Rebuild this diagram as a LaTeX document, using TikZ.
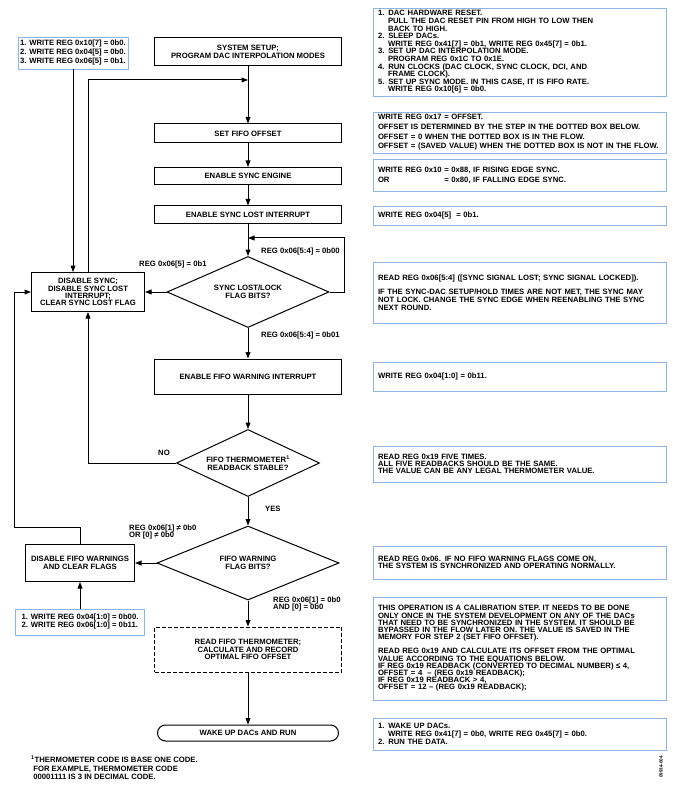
\documentclass[tikz,border=0pt]{standalone}
\usepackage{fontspec}
\setmainfont{Liberation Sans}
\usetikzlibrary{arrows.meta,shapes.geometric}
\definecolor{bluebox}{RGB}{141,180,226}
\newcommand{\ind}{\hspace*{10pt}}
\newcommand{\tls}{\lineskiplimit=-6pt\relax}
\newcommand{\fs}[1]{\fontsize{7.7}{#1}\selectfont\bfseries\tls}
\begin{document}
\begin{tikzpicture}[x=1pt,y=-1pt,
  txt/.style={font=\fs{8}},
  mbox/.style={draw, line width=1pt, minimum width=187pt, inner sep=1pt, align=center, txt},
  rbox/.style={draw=bluebox, line width=0.8pt, text width=283pt, inner sep=0pt, inner xsep=5pt, align=left, txt},
  lbox/.style={draw=bluebox, line width=0.8pt, inner sep=0pt, inner xsep=2pt, align=left, txt},
  dia/.style={draw, shape=diamond, aspect=2.3, inner sep=0pt, line width=1pt, align=center, txt},
  lbl/.style={txt, anchor=west, inner sep=0pt, align=left},
  arr/.style={-{Triangle[length=6.5pt,width=4.8pt]}, line width=1pt}]
\useasboundingbox (0,0) rectangle (676,791);

% main column
\node[mbox, minimum height=28pt] (setup) at (248,52) {SYSTEM SETUP;\\PROGRAM DAC INTERPOLATION MODES};
\node[mbox, minimum height=19pt] (fifooff) at (248,133.5) {SET FIFO OFFSET};
\node[mbox, minimum height=17pt] (synceng) at (248,176) {ENABLE SYNC ENGINE};
\node[mbox, minimum height=18pt] (synclost) at (248,215) {ENABLE SYNC LOST INTERRUPT};
\node[dia, minimum width=162pt, minimum height=71pt] (d1) at (248,292) {SYNC LOST/LOCK\\FLAG BITS?};
\node[mbox, minimum height=35pt] (fifowarn) at (248,376.5) {ENABLE FIFO WARNING INTERRUPT};
\node[dia, minimum width=143pt, minimum height=67pt] (d2) at (248,463) {FIFO THERMOMETER\textsuperscript{1}\\READBACK STABLE?};
\node[dia, minimum width=182pt, minimum height=74pt] (d3) at (248,563) {FIFO WARNING\\FLAG BITS?};
\node[mbox, dashed, dash pattern=on 4pt off 2pt, minimum height=45pt, font=\fs{7.6}] (dashed) at (248,649.5) {READ FIFO THERMOMETER;\\CALCULATE AND RECORD\\OPTIMAL FIFO OFFSET};
\node[mbox, rounded corners=8pt, minimum width=181pt, minimum height=16pt] (wake) at (248,733) {WAKE UP DACs AND RUN};

% left column
\node[mbox, minimum width=113pt, minimum height=39pt, font=\fs{7.3}] (disync) at (88,292) {DISABLE SYNC;\\DISABLE SYNC LOST\\INTERRUPT;\\CLEAR SYNC LOST FLAG};
\node[mbox, minimum width=109pt, minimum height=37pt, font=\fs{7.5}] (disfifo) at (80,563) {DISABLE FIFO WARNINGS\\AND CLEAR FLAGS};
\node[lbox, minimum width=110pt, minimum height=32pt, font=\fs{9}] (blueA) at (73,53) {1. WRITE REG 0x10[7] = 0b0.\\2. WRITE REG 0x04[5] = 0b0.\\3. WRITE REG 0x06[5] = 0b1.};
\node[lbox, minimum width=129pt, minimum height=26pt, font=\fs{8}] (blueB) at (80,622) {1. WRITE REG 0x04[1:0] = 0b00.\\2. WRITE REG 0x06[1:0] = 0b11.};

% right column
\node[rbox, minimum height=88pt, font=\fs{7.6}] (r1) at (519.5,52) {1. DAC HARDWARE RESET.\\
\ind PULL THE DAC RESET PIN FROM HIGH TO LOW THEN\\
\ind BACK TO HIGH.\\
2. SLEEP DACs.\\
\ind WRITE REG 0x41[7] = 0b1, WRITE REG 0x45[7] = 0b1.\\
3. SET UP DAC INTERPOLATION MODE.\\
\ind PROGRAM REG 0x1C TO 0x1E.\\
4. RUN CLOCKS (DAC CLOCK, SYNC CLOCK, DCI, AND\\
\ind FRAME CLOCK).\\
5. SET UP SYNC MODE. IN THIS CASE, IT IS FIFO RATE.\\
\ind WRITE REG 0x10[6] = 0b0.};
\node[rbox, minimum height=41pt, font=\fs{9.6}] (r2) at (519.5,132.5) {WRITE REG 0x17 = OFFSET.\\
OFFSET IS DETERMINED BY THE STEP IN THE DOTTED BOX BELOW.\\
OFFSET = 0 WHEN THE DOTTED BOX IS IN THE FLOW.\\
OFFSET = (SAVED VALUE) WHEN THE DOTTED BOX IS NOT IN THE FLOW.};
\node[rbox, minimum height=32pt, font=\fs{10}] (r3) at (519.5,175) {WRITE REG 0x10 = 0x88, IF RISING EDGE SYNC.\\
\leavevmode\rlap{OR}\phantom{WRITE REG 0x10 }= 0x80, IF FALLING EDGE SYNC.};
\node[rbox, minimum height=19pt] (r4) at (519.5,215.5) {WRITE REG 0x04[5] \ = 0b1.};
\node[rbox, minimum height=61pt, font=\fs{7.6}] (r5) at (519.5,292.5) {READ REG 0x06[5:4] ([SYNC SIGNAL LOST; SYNC SIGNAL LOCKED]).\\[7pt]
IF THE SYNC-DAC SETUP/HOLD TIMES ARE NOT MET, THE SYNC MAY\\
NOT LOCK. CHANGE THE SYNC EDGE WHEN REENABLING THE SYNC\\
NEXT ROUND.};
\node[rbox, minimum height=29pt] (r6) at (519.5,376.5) {WRITE REG 0x04[1:0] = 0b11.};
\node[rbox, minimum height=36pt, font=\fs{7.2}] (r7) at (519.5,464) {READ REG 0x19 FIVE TIMES.\\
ALL FIVE READBACKS SHOULD BE THE SAME.\\
THE VALUE CAN BE ANY LEGAL THERMOMETER VALUE.};
\node[rbox, minimum height=33pt, font=\fs{7.6}] (r8) at (519.5,562.5) {READ REG 0x06. IF NO FIFO WARNING FLAGS COME ON,\\
THE SYSTEM IS SYNCHRONIZED AND OPERATING NORMALLY.};
\node[rbox, minimum height=103pt, font=\fs{7.2}] (r9) at (519.5,648.5) {THIS OPERATION IS A CALIBRATION STEP. IT NEEDS TO BE DONE\\
ONLY ONCE IN THE SYSTEM DEVELOPMENT ON ANY OF THE DACs\\
THAT NEED TO BE SYNCHRONIZED IN THE SYSTEM. IT SHOULD BE\\
BYPASSED IN THE FLOW LATER ON. THE VALUE IS SAVED IN THE\\
MEMORY FOR STEP 2 (SET FIFO OFFSET).\\[7pt]
READ REG 0x19 AND CALCULATE ITS OFFSET FROM THE OPTIMAL\\
VALUE ACCORDING TO THE EQUATIONS BELOW.\\
IF REG 0x19 READBACK (CONVERTED TO DECIMAL NUMBER) ≤ 4,\\
OFFSET = 4 \ – (REG 0x19 READBACK);\\
IF REG 0x19 READBACK > 4,\\
OFFSET = 12 – (REG 0x19 READBACK);};
\node[rbox, minimum height=32pt, font=\fs{8}] (r10) at (519.5,734) {1. WAKE UP DACs.\\
\ind WRITE REG 0x41[7] = 0b0, WRITE REG 0x45[7] = 0b0.\\
2. RUN THE DATA.};

% labels
\node[lbl] (l1) at (261,252) {REG 0x06[5:4] = 0b00};
\node[lbl] (l2) at (139,265) {REG 0x06[5] = 0b1};
\node[lbl] (l3) at (261,336) {REG 0x06[5:4] = 0b01};
\node[lbl] (l4) at (158,453) {NO};
\node[lbl] (l5) at (265,509) {YES};
\node[lbl, font=\fs{7}] (l6) at (129,532) {REG 0x06[1] ≠ 0b0\\OR [0] ≠ 0b0};
\node[lbl, font=\fs{7}] (l7) at (273,604) {REG 0x06[1] = 0b0\\AND [0] = 0b0};
\node[lbl, font=\fs{8.5}] (foot) at (31,768) {\textsuperscript{1}THERMOMETER CODE IS BASE ONE CODE.\\
\ FOR EXAMPLE, THERMOMETER CODE\\
\ 00001111 IS 3 IN DECIMAL CODE.};
\node[rotate=90, inner sep=0pt, font=\fontsize{4.5}{5}\selectfont\bfseries] (figid) at (661,767) {09934-004};

% coordinates
\coordinate (loopc) at (344,238);
\coordinate (mainA) at (248,238);
\coordinate (topL) at (88,80);
\coordinate (mainT) at (248,80);
\coordinate (noL) at (88,463);
\coordinate (c1) at (80,527);
\coordinate (c2) at (14,527);
\coordinate (c3) at (14,292);

% main flow
\draw[arr] (setup) -- (fifooff);
\draw[arr] (fifooff) -- (synceng);
\draw[arr] (synceng) -- (synclost);
\draw[arr] (synclost) -- (d1);
\draw[arr] (d1) -- (fifowarn);
\draw[arr] (fifowarn) -- (d2);
\draw[arr] (d2) -- (d3);
\draw[arr] (d3) -- (dashed);
\draw[arr] (dashed) -- (wake);

% loops
\draw[arr] (d1.east) -| (loopc) -- (mainA);
\draw[arr] (d1.west) -- (disync.east);
\draw[arr] (blueA.south) -- (blueA.south |- disync.north);
\draw[arr] (disync.north) -- (topL) -- (mainT);
\draw[arr] (d2.west) -- (noL) -- (disync.south);
\draw[arr] (disfifo.north) -- (c1) -- (c2) -- (c3) -- (disync.west);
\draw[arr] (d3.west) -- (disfifo.east);
\draw[arr] (blueB.north) -- (disfifo.south);
\end{tikzpicture}
\end{document}
